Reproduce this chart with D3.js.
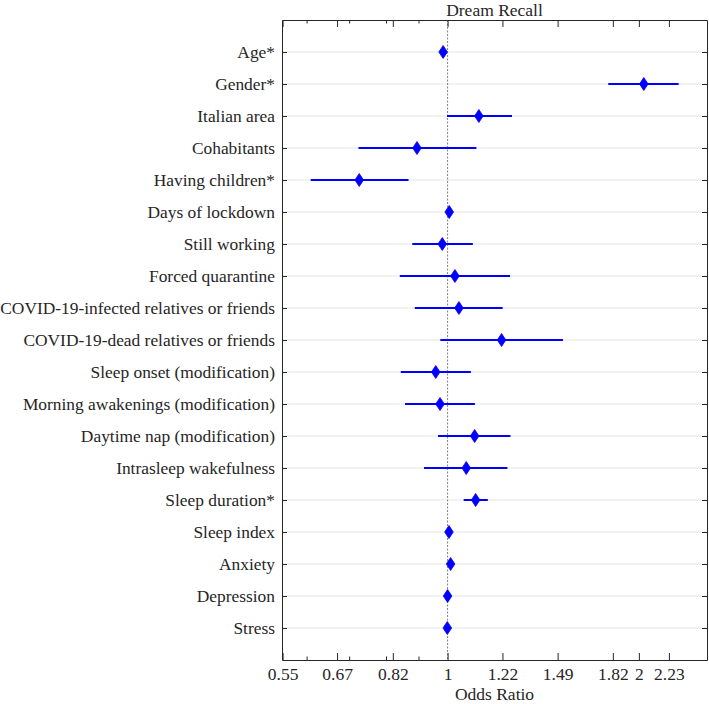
<!DOCTYPE html>
<html>
<head>
<meta charset="utf-8">
<script src="https://cdn.jsdelivr.net/npm/d3@7"></script>
<style>
  html, body { margin: 0; padding: 0; background: #fff; }
  svg { display: block; }
  text { font-family: "Liberation Serif", "DejaVu Serif", serif; fill: #262626; }
</style>
</head>
<body>
<script>
const categories = [
  "Age*", "Gender*", "Italian area", "Cohabitants", "Having children*",
  "Days of lockdown", "Still working", "Forced quarantine",
  "COVID-19-infected relatives or friends", "COVID-19-dead relatives or friends",
  "Sleep onset (modification)", "Morning awakenings (modification)",
  "Daytime nap (modification)", "Intrasleep wakefulness", "Sleep duration*",
  "Sleep index", "Anxiety", "Depression", "Stress"
];
const oddsRatio = [0.984, 2.036, 1.12, 0.895, 0.726, 1.006, 0.981, 1.027, 1.042, 1.216,
                   0.958, 0.973, 1.103, 1.070, 1.107, 1.005, 1.011, 1.000, 0.999];
const ciLower   = [0.979, 1.79, 0.998, 0.724, 0.609, 1.003, 0.880, 0.841, 0.888, 0.974,
                   0.844, 0.857, 0.966, 0.918, 1.060, 1.002, 1.008, 0.997, 0.996];
const ciUpper   = [0.989, 2.31, 1.263, 1.11, 0.868, 1.009, 1.096, 1.254, 1.221, 1.519,
                   1.088, 1.104, 1.256, 1.242, 1.157, 1.008, 1.014, 1.003, 1.002];
const majorTicks = [0.55, 0.67, 0.82, 1, 1.22, 1.49, 1.82, 2, 2.23];
const majorTickLabels = ["0.55", "0.67", "0.82", "1", "1.22", "1.49", "1.82", "2", "2.23"];
const minorTicks = [0.6, 0.7, 0.8, 0.9];
const xDomain = [0.5488, 2.56];
const title = "Dream Recall";
const xLabel = "Odds Ratio";

const W = 709, H = 704;
const m = { left: 282, right: 2, top: 20, bottom: 44 };
const iw = W - m.left - m.right, ih = H - m.top - m.bottom;

const svg = d3.select("body").append("svg").attr("width", W).attr("height", H);
const g = svg.append("g").attr("transform", `translate(${m.left},${m.top})`);

const x = d3.scaleLog().domain(xDomain).range([0, iw]);
const y = d3.scaleLinear().domain([0, categories.length + 1]).range([0, ih]);

// horizontal grid
g.append("g").selectAll("line").data(categories).join("line")
  .attr("x1", 0).attr("x2", iw)
  .attr("y1", (d, i) => y(i + 1)).attr("y2", (d, i) => y(i + 1))
  .attr("stroke", "#e6e6e6").attr("stroke-width", 1);

// reference line at OR = 1
g.append("line")
  .attr("x1", x(1)).attr("x2", x(1)).attr("y1", 0).attr("y2", ih)
  .attr("stroke", "#808080").attr("stroke-width", 1).attr("stroke-dasharray", "2,1.5");

// axes (inward ticks, box)
const axB = d3.axisBottom(x).tickValues(majorTicks).tickFormat((d, i) => majorTickLabels[i])
  .tickSizeInner(-7).tickSizeOuter(0).tickPadding(8);
const axBG = g.append("g").attr("transform", `translate(0,${ih})`).call(axB);
axBG.select(".domain").attr("stroke", "#262626");
axBG.selectAll(".tick line").attr("stroke", "#262626");
axBG.selectAll("text").style("font-size", "17.5px").attr("fill", "#262626");

const axBm = d3.axisBottom(x).tickValues(minorTicks).tickFormat("").tickSizeInner(-3.5).tickSizeOuter(0);
const axBmG = g.append("g").attr("transform", `translate(0,${ih})`).call(axBm);
axBmG.select(".domain").remove();
axBmG.selectAll(".tick line").attr("stroke", "#262626");

const axT = d3.axisTop(x).tickValues(majorTicks).tickFormat("").tickSizeInner(-7).tickSizeOuter(0);
const axTG = g.append("g").call(axT);
axTG.select(".domain").attr("stroke", "#262626");
axTG.selectAll(".tick line").attr("stroke", "#262626");
const axTm = d3.axisTop(x).tickValues(minorTicks).tickFormat("").tickSizeInner(-3.5).tickSizeOuter(0);
const axTmG = g.append("g").call(axTm);
axTmG.select(".domain").remove();
axTmG.selectAll(".tick line").attr("stroke", "#262626");

const yPos = categories.map((d, i) => i + 1);
const axL = d3.axisLeft(y).tickValues(yPos).tickFormat((d, i) => categories[i])
  .tickSizeInner(-5).tickSizeOuter(0).tickPadding(7);
const axLG = g.append("g").call(axL);
axLG.select(".domain").attr("stroke", "#262626");
axLG.selectAll(".tick line").attr("stroke", "#262626");
axLG.selectAll("text").style("font-size", "17.4px").attr("fill", "#262626");

const axR = d3.axisRight(y).tickValues(yPos).tickFormat("").tickSizeInner(-5).tickSizeOuter(0);
const axRG = g.append("g").attr("transform", `translate(${iw},0)`).call(axR);
axRG.select(".domain").attr("stroke", "#262626");
axRG.selectAll(".tick line").attr("stroke", "#262626");

// CI lines
g.append("g").selectAll("line").data(categories).join("line")
  .attr("x1", (d, i) => x(ciLower[i])).attr("x2", (d, i) => x(ciUpper[i]))
  .attr("y1", (d, i) => y(i + 1)).attr("y2", (d, i) => y(i + 1))
  .attr("stroke", "#0000ff").attr("stroke-width", 2);

// diamonds
const diamond = "M0,-6.5L4.3,0L0,6.5L-4.3,0Z";
g.append("g").selectAll("path").data(categories).join("path")
  .attr("d", diamond)
  .attr("transform", (d, i) => `translate(${x(oddsRatio[i])},${y(i + 1)})`)
  .attr("fill", "#0000ff").attr("stroke", "#0000ff").attr("stroke-width", 0.8);

// title and x label
svg.append("text").attr("x", m.left + iw / 2).attr("y", 16)
  .attr("text-anchor", "middle").style("font-size", "17.5px").text(title);
svg.append("text").attr("x", m.left + iw / 2).attr("y", 700)
  .attr("text-anchor", "middle").style("font-size", "17.5px").text(xLabel);
</script>
</body>
</html>
